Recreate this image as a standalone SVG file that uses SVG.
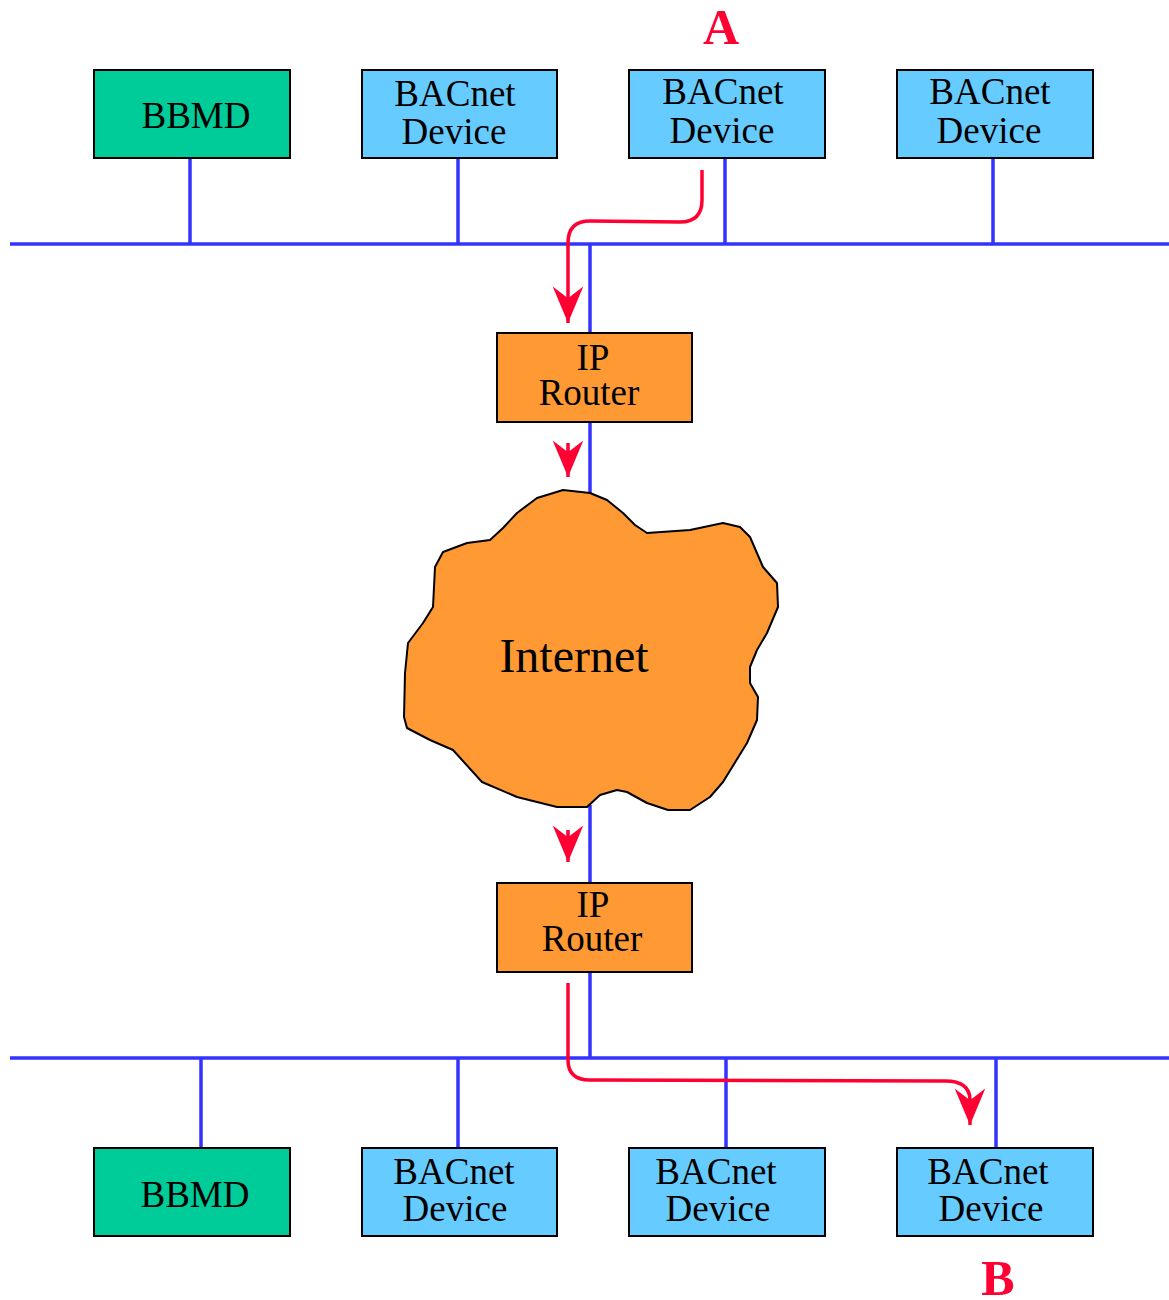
<svg xmlns="http://www.w3.org/2000/svg" width="1169" height="1300" viewBox="0 0 1169 1300">
<style>
.box{stroke:#000;stroke-width:2}
.bbmd{fill:#00CC99}
.dev{fill:#66CCFF}
.rtr{fill:#FF9933}
.t{font-family:"Liberation Serif","Times New Roman",serif;font-size:37px;fill:#000;text-anchor:middle}
.bus{stroke:#3333FF;stroke-width:3.5;fill:none}
.red{stroke:#FF0033;stroke-width:3.5;fill:none}
.lbl{font-family:"Liberation Serif","Times New Roman",serif;font-size:50px;font-weight:bold;fill:#FF0033;text-anchor:middle}
</style>
<defs>
<marker id="ah" markerUnits="userSpaceOnUse" markerWidth="40" markerHeight="40" viewBox="-32 -16 34 32" refX="0" refY="0" orient="auto">
<path d="M0,0 L-31,-13 L-21,0 L-31,13 Z" fill="#FF0033"/>
</marker>
</defs>
<rect width="1169" height="1300" fill="#fff"/>
<g id="connectors">
<line class="bus" x1="10" y1="244" x2="1169" y2="244"/>
<line class="bus" x1="190" y1="158" x2="190" y2="244"/>
<line class="bus" x1="458" y1="158" x2="458" y2="244"/>
<line class="bus" x1="725" y1="158" x2="725" y2="244"/>
<line class="bus" x1="993" y1="158" x2="993" y2="244"/>
<line class="bus" x1="590" y1="244" x2="590" y2="334"/>
<line class="bus" x1="590" y1="422" x2="590" y2="494"/>
<line class="bus" x1="590" y1="805" x2="590" y2="883"/>
<line class="bus" x1="590" y1="972" x2="590" y2="1058"/>
<line class="bus" x1="10" y1="1058" x2="1169" y2="1058"/>
<line class="bus" x1="201" y1="1058" x2="201" y2="1148"/>
<line class="bus" x1="458" y1="1058" x2="458" y2="1148"/>
<line class="bus" x1="726" y1="1058" x2="726" y2="1148"/>
<line class="bus" x1="996" y1="1058" x2="996" y2="1148"/>
<path class="red" d="M702,170 L702,200 Q702,222 680,222 L590,221 Q568,221 568,243 L568,323" marker-end="url(#ah)"/>
<path class="red" d="M568,443 L568,477" marker-end="url(#ah)"/>
<path class="red" d="M568,830 L568,862" marker-end="url(#ah)"/>
<path class="red" d="M568,983 L568,1060 Q568,1080 590,1080 L945,1081 Q970,1081 970,1100 L970,1125" marker-end="url(#ah)"/>
</g>
<g id="bbmd-top"><rect class="box bbmd" x="94" y="70" width="196" height="88"/><text class="t" x="196" y="128">BBMD</text></g>
<g id="dev-top-1"><rect class="box dev" x="362" y="70" width="195" height="88"/><text class="t" x="455" y="106">BACnet</text><text class="t" x="454" y="144">Device</text></g>
<g id="dev-top-2"><rect class="box dev" x="629" y="70" width="196" height="88"/><text class="t" x="723" y="104">BACnet</text><text class="t" x="722" y="143">Device</text></g>
<g id="dev-top-3"><rect class="box dev" x="897" y="70" width="196" height="88"/><text class="t" x="990" y="104">BACnet</text><text class="t" x="989" y="143">Device</text></g>
<g id="router-1"><rect class="box rtr" x="497" y="333" width="195" height="89"/><text class="t" x="593" y="370">IP</text><text class="t" x="589" y="405">Router</text></g>
<g id="internet">
<path d="M590,493 L563,490 L537,498 L517,513 L503,528 L490,540 L467,543 L443,552 L435,567 L433,607 L423,623 L408,643 L405,673 L404,717 L407,728 L430,740 L453,750 L482,782 L517,797 L557,807 L587,807 L600,795 L617,790 L627,792 L647,803 L668,810 L690,810 L710,797 L723,782 L747,743 L757,720 L758,697 L750,683 L750,667 L757,650 L767,633 L778,607 L777,583 L763,567 L750,537 L740,527 L723,523 L690,530 L647,533 L635,525 L623,513 L607,500 Z" fill="#FF9933" stroke="#000" stroke-width="2" stroke-linejoin="round"/>
<text x="574" y="672" font-family="Liberation Serif, Times New Roman, serif" font-size="48" text-anchor="middle" fill="#000">Internet</text>
</g>
<g id="router-2"><rect class="box rtr" x="497" y="883" width="195" height="89"/><text class="t" x="593" y="917">IP</text><text class="t" x="592" y="951">Router</text></g>
<g id="bbmd-bot"><rect class="box bbmd" x="94" y="1148" width="196" height="88"/><text class="t" x="195" y="1207">BBMD</text></g>
<g id="dev-bot-1"><rect class="box dev" x="362" y="1148" width="195" height="88"/><text class="t" x="454" y="1184">BACnet</text><text class="t" x="455" y="1221">Device</text></g>
<g id="dev-bot-2"><rect class="box dev" x="629" y="1148" width="196" height="88"/><text class="t" x="716" y="1184">BACnet</text><text class="t" x="718" y="1221">Device</text></g>
<g id="dev-bot-3"><rect class="box dev" x="897" y="1148" width="196" height="88"/><text class="t" x="988" y="1184">BACnet</text><text class="t" x="991" y="1221">Device</text></g>
<g id="label-a"><text class="lbl" x="721" y="44">A</text></g>
<g id="label-b"><text class="lbl" x="998" y="1295">B</text></g>
</svg>
